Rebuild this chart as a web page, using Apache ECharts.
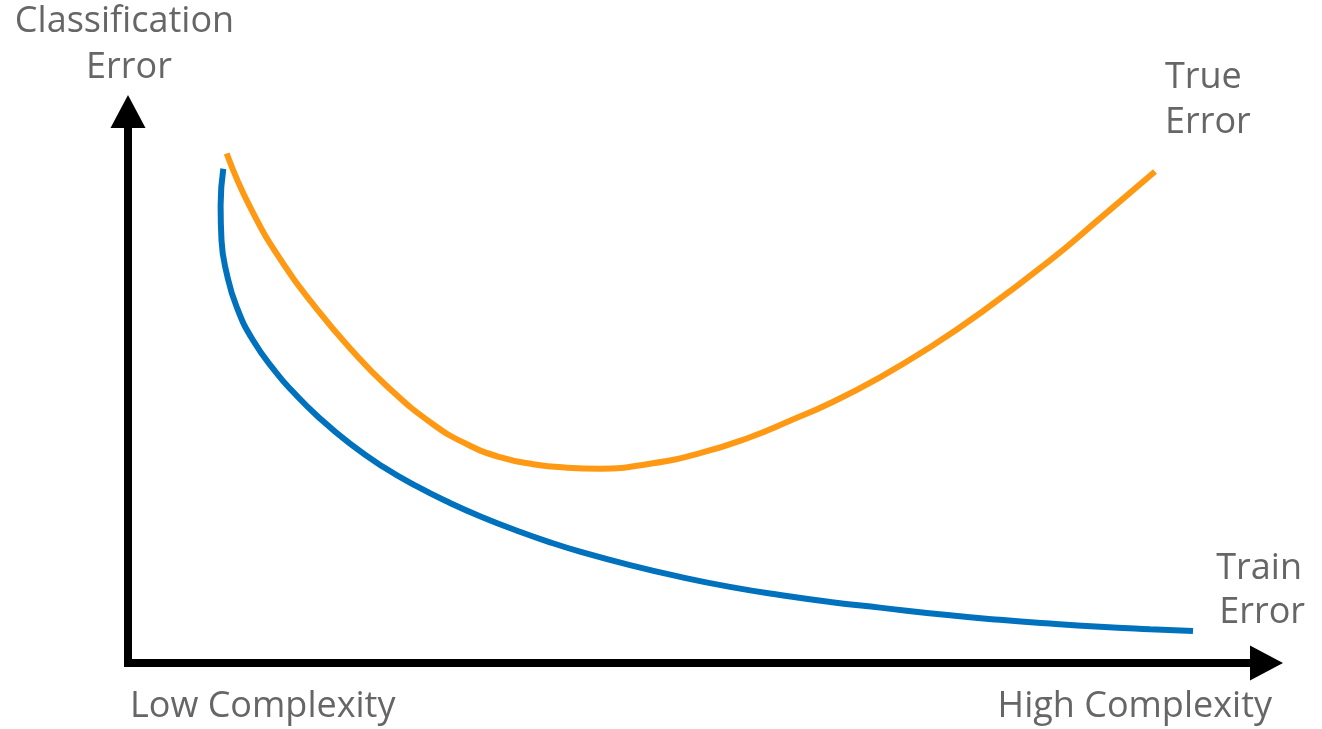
<!DOCTYPE html>
<html>
<head>
<meta charset="utf-8">
<script src="https://cdn.jsdelivr.net/npm/echarts@6/dist/echarts.min.js"></script>
<style>
html,body{margin:0;padding:0;background:#fff;}
#chart{width:1322px;height:729px;}
</style>
</head>
<body>
<div id="chart"></div>
<script>
// Model complexity (0-100) vs classification error (0-100)
const trueErrorX = [8.669, 10.716, 13.614, 16.601, 19.499, 22.749, 26.790, 29.776, 32.675, 35.573, 38.559, 41.458, 45.850, 50.241, 54.633, 58.147, 61.660, 66.052, 70.444, 74.835, 80.984, 85.375, 90.206];
const trueErrorY = [92.39, 82.70, 72.46, 64.13, 57.07, 50.18, 43.30, 39.67, 37.32, 36.05, 35.42, 35.24, 36.14, 38.04, 40.94, 43.93, 47.10, 51.81, 57.25, 63.41, 73.01, 80.62, 89.13];
const trainErrorX = [8.371, 8.134, 8.213, 8.669, 9.548, 10.979, 13.061, 14.493, 16.601, 19.499, 22.398, 25.384, 28.283, 31.181, 34.168, 37.066, 39.701, 44.093, 48.485, 52.877, 57.268, 61.660, 66.052, 72.200, 76.592, 80.984, 85.375, 89.767, 93.544];
const trainErrorY = [89.62, 82.97, 76.63, 70.65, 64.55, 58.51, 52.54, 49.18, 44.84, 39.76, 35.58, 32.01, 29.02, 26.39, 23.99, 21.88, 20.20, 17.75, 15.62, 13.80, 12.32, 11.07, 10.04, 8.64, 7.83, 7.16, 6.59, 6.14, 5.80];

const yAxisTitle = ['Classification', 'Error'];
const trueLabel = ['True', 'Error'];
const trainLabel = ['Train', 'Error'];
const xLowLabel = 'Low Complexity';
const xHighLabel = 'High Complexity';

const zip = (xs, ys) => xs.map((x, i) => [x, ys[i]]);

const FONT = '"Open Sans", sans-serif';
const TXT = '#666666';
const FS = 36;

function txt(text, x, y, align) {
  return {
    type: 'text', x: x, y: y, silent: true,
    style: { text: text, fill: TXT, font: FS + 'px ' + FONT, textAlign: align, textVerticalAlign: 'middle' }
  };
}

const chart = echarts.init(document.getElementById('chart'), null, { renderer: 'canvas' });
const axisCommon = {
  type: 'value', min: 0, max: 100,
  axisLabel: { show: false }, axisTick: { show: false }, splitLine: { show: false },
  axisLine: {
    show: true, onZero: false,
    symbol: ['none', 'triangle'], symbolSize: [35, 33],
    lineStyle: { color: '#000', width: 8, cap: 'square' }
  }
};
chart.setOption({
  animation: false,
  backgroundColor: '#fff',
  grid: { left: 128, right: 55.5, top: 111.5, bottom: 66, containLabel: false, outerBoundsMode: 'none' },
  xAxis: axisCommon,
  yAxis: axisCommon,
  series: [
    {
      name: 'True Error', type: 'line', data: zip(trueErrorX, trueErrorY),
      smooth: 0.5, showSymbol: false, symbol: 'none', silent: true,
      lineStyle: { color: '#ff9914', width: 6 }, z: 3
    },
    {
      name: 'Train Error', type: 'line', data: zip(trainErrorX, trainErrorY),
      smooth: 0.5, showSymbol: false, symbol: 'none', silent: true,
      lineStyle: { color: '#0072bd', width: 6 }, z: 3
    }
  ],
  graphic: [
    txt(yAxisTitle[0], 124.5, 22, 'center'),
    txt(yAxisTitle[1], 129, 68, 'center'),
    txt(trueLabel[0], 1165, 78, 'left'),
    txt(trueLabel[1], 1165, 123, 'left'),
    txt(trainLabel[0], 1302, 569, 'right'),
    txt(trainLabel[1], 1305, 613, 'right'),
    txt(xLowLabel, 130, 707, 'left'),
    txt(xHighLabel, 1272, 707, 'right')
  ]
});
</script>
</body>
</html>
